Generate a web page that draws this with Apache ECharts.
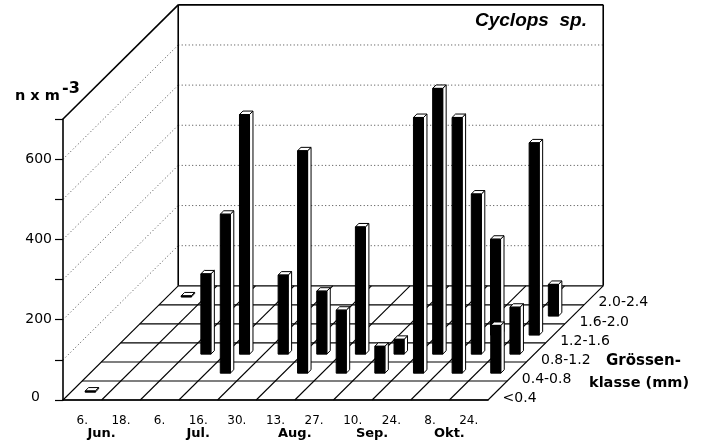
<!DOCTYPE html>
<html>
<head>
<meta charset="utf-8">
<style>html,body{margin:0;padding:0;background:#fff}#c{width:706px;height:448px}</style>
<script src="https://cdn.jsdelivr.net/npm/echarts@6/dist/echarts.min.js"></script>
</head>
<body>
<div id="c"></div>
<script>
const dates = ['6.', '18.', '6.', '16.', '30.', '13.', '27.', '10.', '24.', '8.', '24.'];
const months = ['Jun.', 'Jul.', 'Aug.', 'Sep.', 'Okt.'];
const monthCenters = [0.5, 3, 5.5, 7.5, 9.5];
const sizeClasses = ['<0.4', '0.4-0.8', '0.8-1.2', '1.2-1.6', '1.6-2.0', '2.0-2.4'];
const yTicks = [100, 200, 300, 400, 500, 600];
const yTickLabels = { 0: '{z|0}', 200: '200', 400: '400', 600: '600' };

const class0 = [3, 0, 0, 0, 0, 0, 0, 0, 0, 0, 0];
const class1 = [0, 0, 0, 396, 0, 554, 157, 67, 637, 637, 119];
const class2 = [0, 0, 200, 597, 197, 157, 317, 37, 662, 399, 117];
const class3 = [0, 0, 0, 0, 0, 0, 0, 0, 0, 239, 479];
const class4 = [0, 0, 0, 0, 0, 0, 0, 0, 0, 0, 79];
const class5 = [3, 0, 0, 0, 0, 0, 0, 0, 0, 0, 0];
const classValues = [class0, class1, class2, class3, class4, class5];

const BLACK = '#000';
const MAIN = 'DejaVu Sans';
// oblique projection: one depth row moves half a category right and 47.4 value units up
const DEPTH_X = 0.497, DEPTH_V = 47.4, ROWS = 6, NCAT = dates.length, VMAX = 700;
function proj(api, x, depth, v) {
  return api.coord([x + DEPTH_X * depth, v + DEPTH_V * depth]);
}
function line(p, q, style) {
  return { type: 'line', shape: { x1: p[0], y1: p[1], x2: q[0], y2: q[1] }, style: style, silent: true };
}
function poly(pts, style) {
  return { type: 'polygon', shape: { points: pts }, style: style, silent: true };
}
function frameItem(params, api) {
  const ch = [];
  const L = -0.5, R = NCAT - 0.5;
  const dotted = { stroke: '#444', lineWidth: 1, lineDash: [1, 2.5] };
  const solid = { stroke: BLACK, lineWidth: 1.1 };
  const heavy = { stroke: BLACK, lineWidth: 1.6 };
  yTicks.forEach(v => {
    ch.push(line(proj(api, L, 0, v), proj(api, L, ROWS, v), dotted));
    ch.push(line(proj(api, L, ROWS, v), proj(api, R, ROWS, v), dotted));
  });
  for (let d = 0; d <= ROWS; d++) ch.push(line(proj(api, L, d, 0), proj(api, R, d, 0), solid));
  for (let k = 0; k <= NCAT; k++) ch.push(line(proj(api, L + k, 0, 0), proj(api, L + k, ROWS, 0), solid));
  ch.push(line(proj(api, L, 0, VMAX), proj(api, L, ROWS, VMAX), heavy));
  ch.push(line(proj(api, L, ROWS, 0), proj(api, L, ROWS, VMAX), heavy));
  ch.push(line(proj(api, L, ROWS, VMAX), proj(api, R, ROWS, VMAX), heavy));
  ch.push(line(proj(api, R, ROWS, 0), proj(api, R, ROWS, VMAX), heavy));
  return { type: 'group', children: ch };
}
const HALF_W = 0.13, HALF_D = 0.09;
function barSeries(j) {
  const data = classValues[j].map((v, i) => [i, v]).filter(d => d[1] > 0);
  return {
    type: 'custom', xAxisIndex: 1, yAxisIndex: 0, z: 3 + (ROWS - j), silent: true,
    data: data, encode: { x: 0, y: 1 },
    renderItem(params, api) {
      const i = api.value(0), v = api.value(1);
      const x0 = i - HALF_W, x1 = i + HALF_W;
      const d0 = j + 0.5 - HALF_D, d1 = j + 0.5 + HALF_D;
      const fb0 = proj(api, x0, d0, 0), fb1 = proj(api, x1, d0, 0);
      const ft0 = proj(api, x0, d0, v), ft1 = proj(api, x1, d0, v);
      const bt0 = proj(api, x0, d1, v), bt1 = proj(api, x1, d1, v), bb1 = proj(api, x1, d1, 0);
      const edge = { fill: '#fff', stroke: BLACK, lineWidth: 1 };
      return { type: 'group', children: [
        poly([fb1, ft1, bt1, bb1], edge),
        poly([ft0, ft1, bt1, bt0], edge),
        poly([fb0, fb1, ft1, ft0], { fill: BLACK, stroke: BLACK, lineWidth: 1 })
      ] };
    }
  };
}
const option = {
  animation: false,
  backgroundColor: '#fff',
  title: {
    text: 'Cyclops  sp.', left: 470, top: 6,
    textStyle: { fontFamily: 'Liberation Sans', fontWeight: 'bold', fontStyle: 'italic', fontSize: 19, color: BLACK }
  },
  grid: { left: 63, width: 425, top: 119, height: 281, containLabel: false },
  xAxis: [
    {
      type: 'category', data: dates, boundaryGap: true, z: 10,
      axisLine: { lineStyle: { color: BLACK, width: 1.6 } },
      axisTick: { alignWithLabel: true, length: 5, lineStyle: { color: BLACK, width: 1.4 } },
      axisLabel: { interval: 0, margin: 15, color: BLACK, fontFamily: MAIN, fontSize: 12 },
      splitLine: { show: false }
    },
    { type: 'value', min: -0.5, max: NCAT - 0.5, show: false, splitLine: { show: false } }
  ],
  yAxis: [{
    type: 'value', min: 0, max: VMAX, interval: 100, z: 10,
    axisLine: { show: true, onZero: false, lineStyle: { color: BLACK, width: 1.6 } },
    axisTick: { show: true, length: 8, lineStyle: { color: BLACK, width: 1.2 } },
    axisLabel: {
      margin: 11, color: BLACK, fontFamily: MAIN, fontSize: 14,
      formatter: v => yTickLabels[v] || '',
      rich: { z: { fontFamily: MAIN, fontSize: 14, color: BLACK, padding: [0, 12, 6, 0] } }
    },
    splitLine: { show: false }
  }],
  series: [
    { type: 'custom', xAxisIndex: 1, yAxisIndex: 0, z: 1, silent: true, data: [[0, 0]], renderItem: frameItem },
    ...sizeClasses.map((_, j) => barSeries(j)),
    {
      type: 'custom', xAxisIndex: 1, yAxisIndex: 0, z: 11, silent: true,
      data: sizeClasses.map((s, j) => [j]),
      renderItem(params, api) {
        const j = api.value(0);
        const p = proj(api, NCAT - 0.5, j + 0.5, 0);
        return { type: 'text', x: p[0] + 5, y: p[1] + 7.5, silent: true,
          style: { text: sizeClasses[j], fill: BLACK, fontFamily: MAIN, fontSize: 14, align: 'left', verticalAlign: 'middle' } };
      }
    },
    {
      type: 'custom', xAxisIndex: 1, yAxisIndex: 0, z: 11, silent: true,
      data: months.map((s, k) => [k]),
      renderItem(params, api) {
        const k = api.value(0);
        const p = api.coord([monthCenters[k], 0]);
        return { type: 'text', x: p[0], y: p[1] + 34, silent: true,
          style: { text: months[k], fill: BLACK, fontFamily: MAIN, fontWeight: 'bold', fontSize: 13, align: 'center', verticalAlign: 'middle' } };
      }
    }
  ],
  graphic: [
    { type: 'text', x: 15, y: 96, silent: true, style: { text: 'n x m', fill: BLACK, fontFamily: MAIN, fontWeight: 'bold', fontSize: 14.5, verticalAlign: 'middle' } },
    { type: 'text', x: 62, y: 89, silent: true, style: { text: '-3', fill: BLACK, fontFamily: MAIN, fontWeight: 'bold', fontSize: 16, verticalAlign: 'middle' } },
    { type: 'text', x: 606, y: 361, silent: true, style: { text: 'Grössen-', fill: BLACK, fontFamily: MAIN, fontWeight: 'bold', fontSize: 15, verticalAlign: 'middle' } },
    { type: 'text', x: 589, y: 383, silent: true, style: { text: 'klasse (mm)', fill: BLACK, fontFamily: MAIN, fontWeight: 'bold', fontSize: 14.5, verticalAlign: 'middle' } }
  ]
};
const chart = echarts.init(document.getElementById('c'), null, { renderer: 'canvas' });
chart.setOption(option);
</script>
</body>
</html>
